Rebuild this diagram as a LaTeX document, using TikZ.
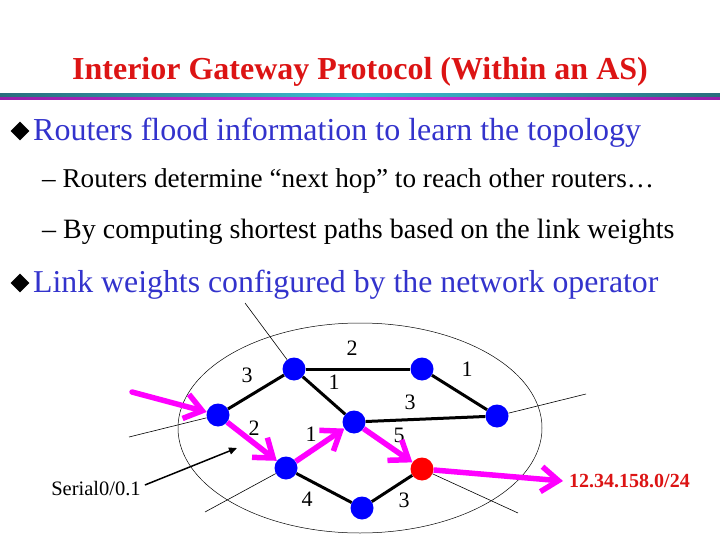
\documentclass[tikz,border=0pt]{standalone}
\usepackage{fontspec}
\setmainfont{Liberation Serif}
\usepackage{xcolor}
\usetikzlibrary{arrows.meta,shapes.geometric}

\definecolor{titlered}{RGB}{220,20,20}
\definecolor{bulletblue}{RGB}{51,51,204}
\definecolor{pathpink}{RGB}{255,0,255}
\definecolor{barteal}{RGB}{40,110,125}
\definecolor{barcyan}{RGB}{60,190,210}
\definecolor{barpurple}{RGB}{150,30,170}
\definecolor{barmagenta}{RGB}{200,50,220}

\begin{document}
\begin{tikzpicture}[x=1pt, y=-1pt]

% Define styles
\tikzstyle{router} = [circle, fill=blue, minimum width=23pt, minimum height=22pt, inner sep=0pt]
\tikzstyle{exit} = [router, fill=red]
\tikzstyle{link} = [draw=black, line width=3pt]
\tikzstyle{thin} = [draw=black, line width=0.6pt]
\tikzstyle{route} = [draw=pathpink, line width=5.5pt, -{Straight Barb[length=17pt, width=25pt, line width=5.5pt]}]
\tikzstyle{weight} = [font=\fontsize{22}{24}\selectfont, inner sep=0pt]
\tikzstyle{bullet} = [diamond, fill=black, minimum width=19pt, minimum height=19pt, inner sep=0pt]

\useasboundingbox (0,0) rectangle (720,540);

% Title and bar
\node[anchor=base, text=titlered, font=\fontsize{32}{36}\selectfont\bfseries] (title) at (360,80) {Interior Gateway Protocol (Within an AS)};
\shade[left color=barteal, right color=barteal, middle color=barcyan] (0,94) rectangle (720,97.5);
\shade[left color=barpurple, right color=barpurple, middle color=barmagenta] (0,97.5) rectangle (720,100);

% Bullets
\node[bullet] (b1) at (20,131) {};
\node[anchor=base west, text=bulletblue, font=\fontsize{32}{36}\selectfont, inner sep=0pt] (t1) at (33,141) {Routers flood information to learn the topology};
\node[anchor=base west, font=\fontsize{27.2}{30}\selectfont, inner sep=0pt] (t2) at (42,188) {– Routers determine “next hop” to reach other routers…};
\node[anchor=base west, font=\fontsize{28}{30}\selectfont, inner sep=0pt] (t3) at (42,238) {– By computing shortest paths based on the link weights};
\node[bullet] (b2) at (20,283) {};
\node[anchor=base west, text=bulletblue, font=\fontsize{31.8}{36}\selectfont, inner sep=0pt] (t4) at (33,292) {Link weights configured by the network operator};

% AS boundary
\draw[thin, line width=0.5pt] (360,428) ellipse (182 and 105);

% Routers
\node[router] (ra) at (218,415) {};
\node[router] (rb) at (294,369) {};
\node[router] (rc) at (422,369) {};
\node[router] (rd) at (497,416) {};
\node[router] (re) at (354,422) {};
\node[router] (rf) at (286,468) {};
\node[router] (rg) at (362,508) {};
\node[exit] (rh) at (422,469) {};

% External links
\coordinate (xa) at (129,437);
\coordinate (xb) at (245,303);
\coordinate (xd) at (586,394);
\coordinate (xf) at (205,512);
\coordinate (xh) at (518,513);
\draw[thin] (xa) -- (ra);
\draw[thin] (xb) -- (rb);
\draw[thin] (rd) -- (xd);
\draw[thin] (xf) -- (rf);
\draw[thin] (rh) -- (xh);

% Internal links
\draw[link] (ra) -- (rb);
\draw[link] (rb) -- (rc);
\draw[link] (rc) -- (rd);
\draw[link] (rb) -- (re);
\draw[link] (re) -- (rd);
\draw[link] (rf) -- (rg);
\draw[link] (rg) -- (rh);

% Link weights
\node[weight] (w1) at (247,375) {3};
\node[weight] (w2) at (352,348) {2};
\node[weight] (w3) at (334,382) {1};
\node[weight] (w4) at (467,369) {1};
\node[weight] (w5) at (410,402) {3};
\node[weight] (w6) at (254,428) {2};
\node[weight] (w7) at (311,434) {1};
\node[weight] (w8) at (399,435) {5};
\node[weight] (w9) at (307,499) {4};
\node[weight] (w10) at (404,500) {3};

% Shortest path
\coordinate (src) at (132,392);
\draw[route, line cap=round] (src) -- (ra);
\draw[route] (ra) -- (rf);
\draw[route] (rf) -- (re);
\draw[route] (re) -- (rh);
\node[anchor=west, text=titlered, font=\fontsize{20}{22}\selectfont\bfseries, inner sep=0pt] (prefix) at (569,481) {12.34.158.0/24};
\draw[route] (rh) -- ([xshift=-6pt]prefix.west);

% Interface label
\node[font=\fontsize{20.5}{22}\selectfont, inner sep=0pt] (serial) at (96,489) {Serial0/0.1};
\coordinate (sp) at (237,448);
\draw[black, line width=1.5pt, -{Triangle[length=8pt, width=7pt]}] (serial.east) ++(4,-4) -- (sp);

\end{tikzpicture}
\end{document}
